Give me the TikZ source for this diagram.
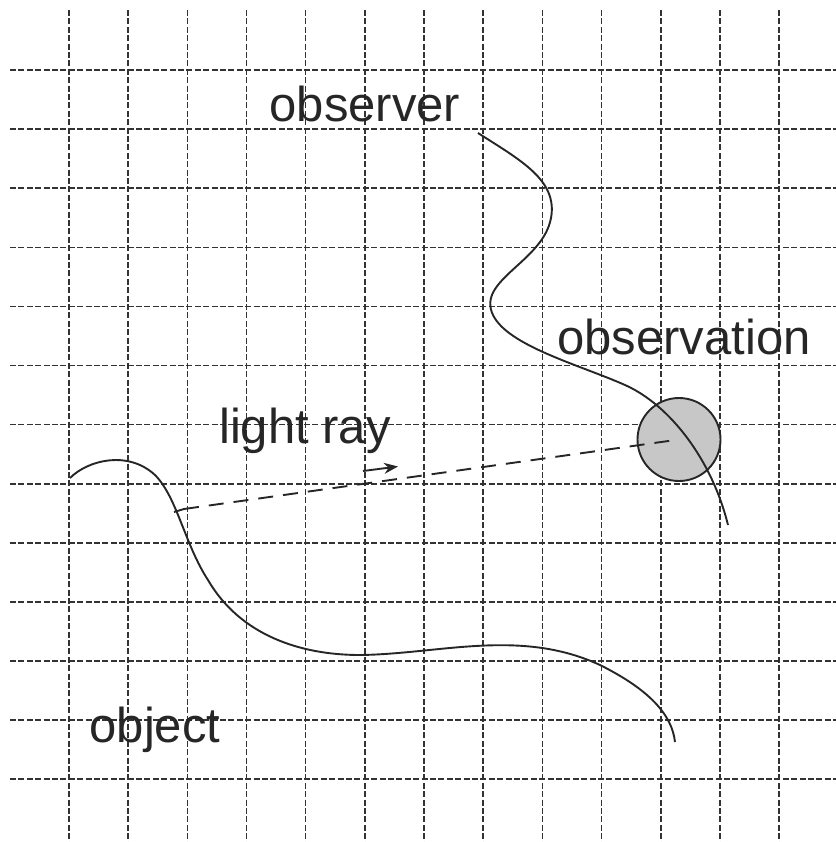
\documentclass[tikz,border=0pt]{standalone}
\usepackage{fontspec}
\setmainfont{Liberation Sans}
\usetikzlibrary{arrows.meta}
\begin{document}
\begin{tikzpicture}[x=0.5pt,y=-0.5pt,
  gridline/.style={draw=black!80,line width=0.8pt,dash pattern=on 3pt off 1.2pt},
  curve/.style={draw=black!85,line width=0.95pt},
  lbl/.style={font=\fontsize{24.5}{28}\selectfont,text=black!85,inner sep=0pt,anchor=base},
  ray/.style={draw=black!85,line width=0.95pt,dash pattern=on 7.5pt off 5pt}]
\useasboundingbox (0,0) rectangle (836,842);
\foreach \i in {0,...,12}{
  \draw[gridline] ({69+59.17*\i},10) -- ({69+59.17*\i},842);
  \draw[gridline] (10,{70+59.1*\i}) -- (836,{70+59.1*\i});
}
% observation circle
\node[circle,draw=black!85,fill=black!22,line width=0.95pt,minimum size=41.5pt,inner sep=0pt] (obs) at (679,439.5) {};
% observer world line
\draw[curve] (478,133) .. controls (520,160) and (558,180) .. (551,218)
  .. controls (543,262) and (476,280) .. (493,315)
  .. controls (508,346) and (580,365) .. (625,385)
  .. controls (670,405) and (712,460) .. (728,525);
% object world line
\draw[curve] (70,478) .. controls (88,460) and (128,450) .. (155,475)
  .. controls (177,497) and (185,545) .. (208,580)
  .. controls (240,635) and (300,655) .. (360,655)
  .. controls (440,654) and (520,628) .. (600,665)
  .. controls (650,690) and (672,715) .. (675,742);
\coordinate (emit) at (174,512);
\coordinate (hit) at (184,509);
\draw[curve] (emit) -- (hit);
\draw[ray] (hit) -- (obs.center);
\coordinate (a1) at (363,471);
\coordinate (a2) at (398,466.5);
\draw[curve,-{Stealth[length=7pt,width=5.5pt]}] (a1) -- (a2);
\node[lbl] (tobserver) at (365,121) {observer};
\node[lbl] (tobservation) at (684,354) {observation};
\node[lbl] (tlight) at (305,443) {light ray};
\node[lbl] (tobject) at (155,742) {object};
\end{tikzpicture}
\end{document}
